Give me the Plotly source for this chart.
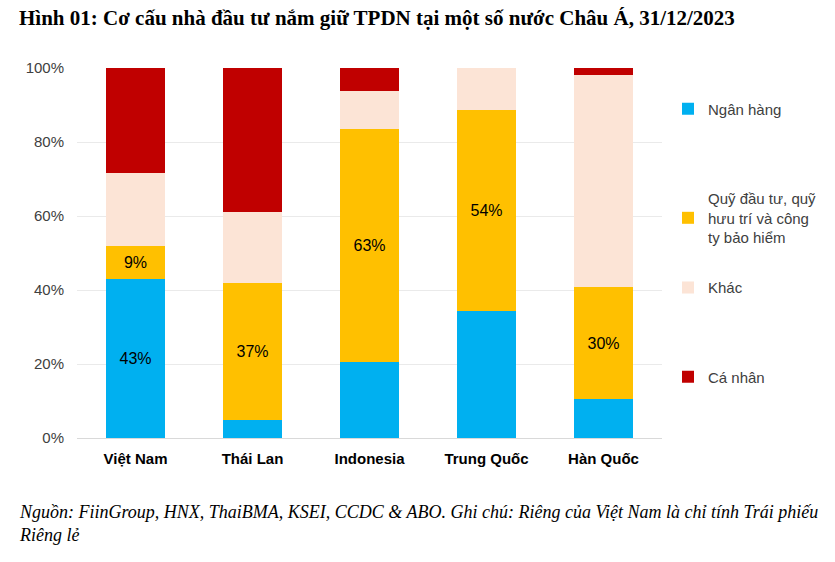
import plotly.graph_objects as go

categories = ["Việt Nam", "Thái Lan", "Indonesia", "Trung Quốc", "Hàn Quốc"]
ngan_hang = [0.43, 0.05, 0.205, 0.343, 0.105]
quy = [0.089, 0.369, 0.63, 0.543, 0.303]
khac = [0.197, 0.193, 0.102, 0.114, 0.573]
ca_nhan = [0.284, 0.388, 0.063, 0.0, 0.019]

ngan_hang_labels = ["43%", "", "", "", ""]
quy_labels = ["9%", "37%", "63%", "54%", "30%"]

series = [
    ("Ngân hàng", ngan_hang, "#00B0F0", ngan_hang_labels),
    ("Quỹ đầu tư, quỹ<br>hưu trí và công<br>ty bảo hiểm", quy, "#FFC000", quy_labels),
    ("Khác", khac, "#FCE4D6", None),
    ("Cá nhân", ca_nhan, "#C00000", None),
]
legend_ids = ["legend", "legend2", "legend3", "legend4"]
legend_y = [0.806, 0.612, 0.488, 0.329]

fig = go.Figure()
for i, (name, vals, color, labels) in enumerate(series):
    fig.add_trace(go.Bar(
        x=categories, y=vals, name=name,
        marker=dict(color=color, line=dict(width=0)),
        text=labels if labels else None,
        textposition="inside" if labels else "none",
        insidetextanchor="middle",
        textfont=dict(family="Liberation Sans, Arial", size=16, color="#000000"),
        legend=legend_ids[i],
        hoverinfo="skip",
    ))

leg_common = dict(
    xref="container", yref="container",
    x=0.800, xanchor="left", yanchor="middle",
    font=dict(size=15, color="#404040", family="Liberation Sans, Arial"),
    itemwidth=30, bgcolor="rgba(0,0,0,0)",
)
legends = {}
for lid, ly in zip(legend_ids, legend_y):
    legends[lid] = dict(leg_common, y=ly)

fig.update_layout(
    barmode="stack",
    bargap=0.5,
    width=835, height=562,
    margin=dict(l=77, r=173, t=68, b=124, autoexpand=False),
    plot_bgcolor="white", paper_bgcolor="white",
    font=dict(family="Liberation Sans, Arial", size=15, color="#404040"),
    showlegend=True,
    uniformtext=dict(minsize=8, mode="show"),
    **legends,
)
fig.update_yaxes(
    range=[0, 1], tickvals=[0, 0.2, 0.4, 0.6, 0.8, 1.0],
    ticktext=["0%", "20%", "40%", "60%", "80%", "100%"],
    showgrid=True, gridcolor="#EAEAEA", gridwidth=1,
    zeroline=False, showline=False, ticks="",
    ticklabelstandoff=12,
    tickfont=dict(size=15, color="#404040"),
)
fig.update_xaxes(
    showline=True, linecolor="#D9D9D9", linewidth=1,
    ticks="", ticklabelstandoff=7,
    tickvals=categories, ticktext=[f"<b>{c}</b>" for c in categories],
    tickfont=dict(size=15, color="#000000", family="Liberation Sans, Arial"),
)

fig.add_annotation(
    text="<b>Hình 01: Cơ cấu nhà đầu tư nắm giữ TPDN tại một số nước Châu Á, 31/12/2023</b>",
    xref="paper", yref="paper", x=-0.1026, y=1.0, xanchor="left", yanchor="middle",
    yshift=50, showarrow=False,
    font=dict(family="Liberation Serif, Times New Roman", size=21, color="#000000"),
)
fig.add_annotation(
    text="<i>Nguồn: FiinGroup, HNX, ThaiBMA, KSEI, CCDC &amp; ABO. Ghi chú: Riêng của Việt Nam là chỉ tính Trái phiếu<br>Riêng lẻ</i>",
    xref="paper", yref="paper", x=-0.1026, y=0, xanchor="left", yanchor="top",
    yshift=-62, showarrow=False, align="left",
    font=dict(family="Liberation Serif, Times New Roman", size=18, color="#000000"),
)

fig.write_html("out.html", config={"displayModeBar": False},
               post_script="document.body.style.margin='0';document.body.style.overflow='hidden';")
